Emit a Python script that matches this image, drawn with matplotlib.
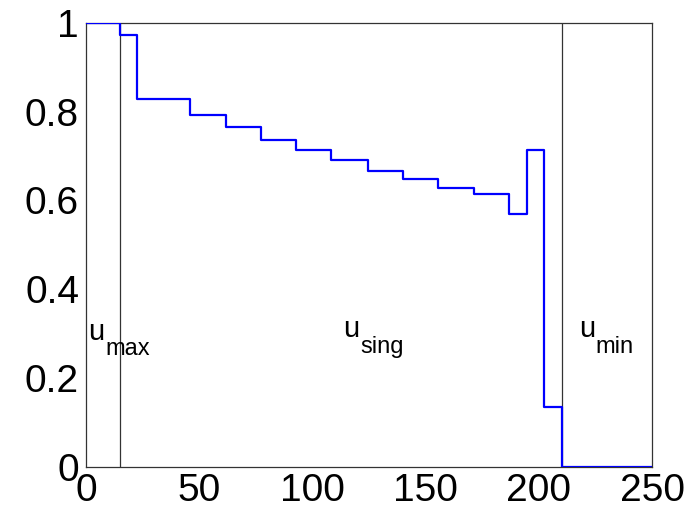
import matplotlib
matplotlib.use("Agg")
import matplotlib.pyplot as plt

# step edges (x) and levels (y) of the control u
edges = [0, 15, 22.6, 46.1, 61.7, 77.3, 92.9, 108.4, 124.6, 140.2,
         155.6, 171.2, 186.7, 194.8, 202.4, 210.2, 250]
levels = [1, 0.973, 0.828, 0.793, 0.765, 0.737, 0.713, 0.690, 0.667,
          0.649, 0.629, 0.614, 0.570, 0.713, 0.134, 0, 0]
switches = [15, 210.2]

xticks = [0, 50, 100, 150, 200, 250]
yticks = [0, 0.2, 0.4, 0.6, 0.8, 1]
ytick_labels = ["0", "0.2", "0.4", "0.6", "0.8", "1"]

plt.rcParams['font.family'] = ['Liberation Sans', 'DejaVu Sans']

fig = plt.figure(figsize=(6.99, 5.13), dpi=100)
ax = fig.add_axes([0.123, 0.0897, 0.810, 0.866])

ax.step(edges, levels, where="post", color="blue", lw=1.6, zorder=3)
for s in switches:
    ax.axvline(s, color="#333333", lw=0.9, zorder=2)

# region labels: main letter plus subscript
labels = [(1, 0.286, 8.4, 0.252, "max"),
          (113.4, 0.293, 121, 0.257, "sing"),
          (217.8, 0.293, 224.8, 0.256, "min")]
for ux, uy, sx, sy, sub in labels:
    ax.text(ux, uy, "u", fontsize=21, va="baseline", ha="left")
    ax.text(sx, sy, sub, fontsize=17, va="baseline", ha="left")

ax.set_xlim(0, 250)
ax.set_ylim(0, 1)
ax.set_xticks(xticks)
ax.set_yticks(yticks)
ax.set_yticklabels(ytick_labels)
ax.tick_params(length=0, labelsize=28, pad=5)
ax.tick_params(axis="x", pad=4)
for sp in ax.spines.values():
    sp.set_color("#333333")
    sp.set_linewidth(0.9)

fig.savefig("out.png", dpi=100)
